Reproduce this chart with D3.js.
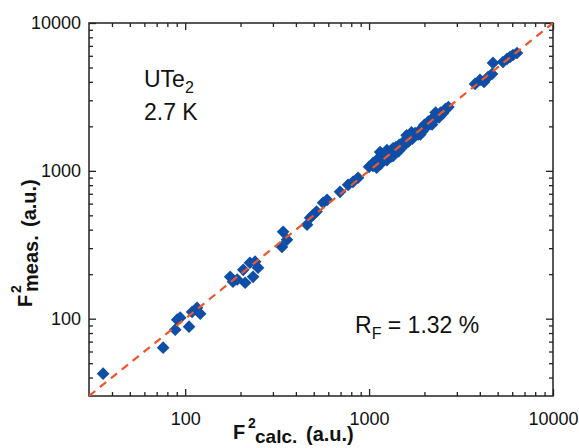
<!DOCTYPE html>
<html>
<head>
<meta charset="utf-8">
<script src="https://cdn.jsdelivr.net/npm/d3@7"></script>
<style>
  html, body { margin: 0; padding: 0; background: #fff; }
  svg { display: block; font-family: "Liberation Sans", Arial, sans-serif; }
</style>
</head>
<body>
<svg id="chart" width="579" height="448"></svg>
<script>
// ---- data ----
const calcValues = [
  35.8, 75.9, 88.3, 90.5, 94, 105, 109, 116, 120.7,
  175.7, 182, 192, 207, 212, 225, 234, 240, 249,
  336, 341, 358, 460, 478, 497, 518, 562, 591, 695, 769, 818, 871,
  1000, 1052, 1148, 1148, 1222,
  1050, 1080, 1100, 1120, 1150, 1160, 1180, 1200, 1230, 1250, 1270, 1300, 1320, 1350,
  1380, 1400, 1430, 1460, 1500, 1530, 1560, 1600, 1640, 1680, 1720, 1780, 1850, 1900,
  1950, 2000, 2050, 2100, 2150, 2200, 2250, 2320, 2400, 2450, 2520, 2600, 2700,
  1250, 1450, 1600, 1700, 1900, 2200, 2300, 1350,
  3767, 4009, 4217, 4436, 4660, 4718, 5346, 5627, 5839, 6061, 6371
];
const measValues = [
  42.5, 63.7, 84.3, 98.5, 101.6, 88.3, 111, 118.6, 108,
  192, 178, 184, 214, 175, 239, 192, 243, 221,
  306, 387, 342, 432, 481, 505, 530, 608, 637, 721, 804, 843, 898,
  1064, 1132, 1224, 1340, 1324,
  1080, 1150, 1050, 1180, 1250, 1120, 1300, 1200, 1300, 1180, 1260, 1350, 1250, 1420,
  1330, 1450, 1380, 1500, 1460, 1560, 1500, 1620, 1580, 1720, 1650, 1800, 1760, 1900,
  1850, 2050, 1980, 2150, 2080, 2250, 2200, 2350, 2300, 2480, 2450, 2620, 2700,
  1380, 1360, 1740, 1820, 1760, 2060, 2480, 1260,
  3873, 4121, 3993, 4315, 4522, 5370, 5445, 5716, 5895, 6078, 6266
];
const xDomain = [30, 10000];
const yDomain = [30, 10000];
const majorTicks = [100, 1000, 10000];
const minorTicks = [40, 50, 60, 70, 80, 90, 200, 300, 400, 500, 600, 700, 800, 900,
                    2000, 3000, 4000, 5000, 6000, 7000, 8000, 9000];
const refLine = [30, 10000];
const sampleLabel = ["UTe", "2"];
const tempLabel = "2.7 K";
const rfLabel = ["R", "F", " = 1.32 %"];

// ---- layout ----
const svg = d3.select("#chart");
const L = 89, R = 553, T = 23, B = 396;
const x = d3.scaleLog().domain(xDomain).range([L, R]);
const y = d3.scaleLog().domain(yDomain).range([B, T]);
const axisColor = "#222";
const fmt = d3.format("d");

function styleAxis(g) {
  g.select(".domain").remove();
  g.selectAll("line").attr("stroke", axisColor).attr("stroke-width", 1.3);
  g.selectAll("text").attr("fill", "#111").style("font-size", "18px");
}
svg.append("g").attr("transform", `translate(0,${B})`)
  .call(d3.axisBottom(x).tickValues(majorTicks).tickSize(-7).tickPadding(16).tickFormat(fmt))
  .call(styleAxis);
svg.append("g").attr("transform", `translate(0,${B})`)
  .call(d3.axisBottom(x).tickValues(minorTicks).tickSize(-4).tickFormat(""))
  .call(styleAxis);
svg.append("g").attr("transform", `translate(0,${T})`)
  .call(d3.axisTop(x).tickValues(majorTicks).tickSize(-7).tickFormat(""))
  .call(styleAxis);
svg.append("g").attr("transform", `translate(0,${T})`)
  .call(d3.axisTop(x).tickValues(minorTicks).tickSize(-4).tickFormat(""))
  .call(styleAxis);
svg.append("g").attr("transform", `translate(${L},0)`)
  .call(d3.axisLeft(y).tickValues(majorTicks).tickSize(-7).tickPadding(8).tickFormat(fmt))
  .call(styleAxis);
svg.append("g").attr("transform", `translate(${L},0)`)
  .call(d3.axisLeft(y).tickValues(minorTicks).tickSize(-4).tickFormat(""))
  .call(styleAxis);
svg.append("g").attr("transform", `translate(${R},0)`)
  .call(d3.axisRight(y).tickValues(majorTicks).tickSize(-7).tickFormat(""))
  .call(styleAxis);
svg.append("g").attr("transform", `translate(${R},0)`)
  .call(d3.axisRight(y).tickValues(minorTicks).tickSize(-4).tickFormat(""))
  .call(styleAxis);

svg.append("rect").attr("x", L).attr("y", T).attr("width", R - L).attr("height", B - T)
  .attr("fill", "none").attr("stroke", axisColor).attr("stroke-width", 1.5);

svg.append("clipPath").attr("id", "plotclip").append("rect")
  .attr("x", L).attr("y", T).attr("width", R - L).attr("height", B - T);

const plot = svg.append("g").attr("clip-path", "url(#plotclip)");

const pts = calcValues.map((c, i) => ({ c, m: measValues[i] }));
plot.selectAll("path.pt").data(pts).enter().append("path")
  .attr("class", "pt")
  .attr("d", d3.symbol().type(d3.symbolSquare).size(80))
  .attr("transform", d => `translate(${x(d.c)},${y(d.m)}) rotate(45)`)
  .attr("fill", "#0f4ea6");

plot.append("line")
  .attr("x1", x(refLine[0])).attr("y1", y(refLine[0]))
  .attr("x2", x(refLine[1])).attr("y2", y(refLine[1]))
  .attr("stroke", "#f0562b").attr("stroke-width", 2.2)
  .attr("stroke-dasharray", "8,6");

const t1 = svg.append("text").attr("x", 144).attr("y", 87)
  .style("font-size", "23px").attr("fill", "#111");
t1.append("tspan").text(sampleLabel[0]);
t1.append("tspan").text(sampleLabel[1]).attr("dy", 6).style("font-size", "16px");
svg.append("text").attr("x", 144).attr("y", 120)
  .style("font-size", "23px").attr("fill", "#111").text(tempLabel);

const t2 = svg.append("text").attr("x", 355).attr("y", 333)
  .style("font-size", "23px").attr("fill", "#111");
t2.append("tspan").text(rfLabel[0]);
t2.append("tspan").text(rfLabel[1]).attr("dy", 6).style("font-size", "16px");
t2.append("tspan").text(rfLabel[2]).attr("dy", -6);

const xt = svg.append("g").attr("fill", "#111").style("font-weight", "bold");
xt.append("text").attr("x", 233).attr("y", 439).style("font-size", "20px").text("F");
xt.append("text").attr("x", 248).attr("y", 428).style("font-size", "14px").text("2");
xt.append("text").attr("x", 255).attr("y", 443).style("font-size", "19px").text("calc.");
xt.append("text").attr("x", 306).attr("y", 441).style("font-size", "20px").text("(a.u.)");

const yt = svg.append("g").attr("transform", "rotate(-90)")
  .attr("fill", "#111").style("font-weight", "bold");
yt.append("text").attr("x", -307).attr("y", 32).style("font-size", "20px").text("F");
yt.append("text").attr("x", -293).attr("y", 21).style("font-size", "14px").text("2");
yt.append("text").attr("x", -292).attr("y", 38).style("font-size", "20px").text("meas.");
yt.append("text").attr("x", -227).attr("y", 36).style("font-size", "20px").text("(a.u.)");
</script>
</body>
</html>
